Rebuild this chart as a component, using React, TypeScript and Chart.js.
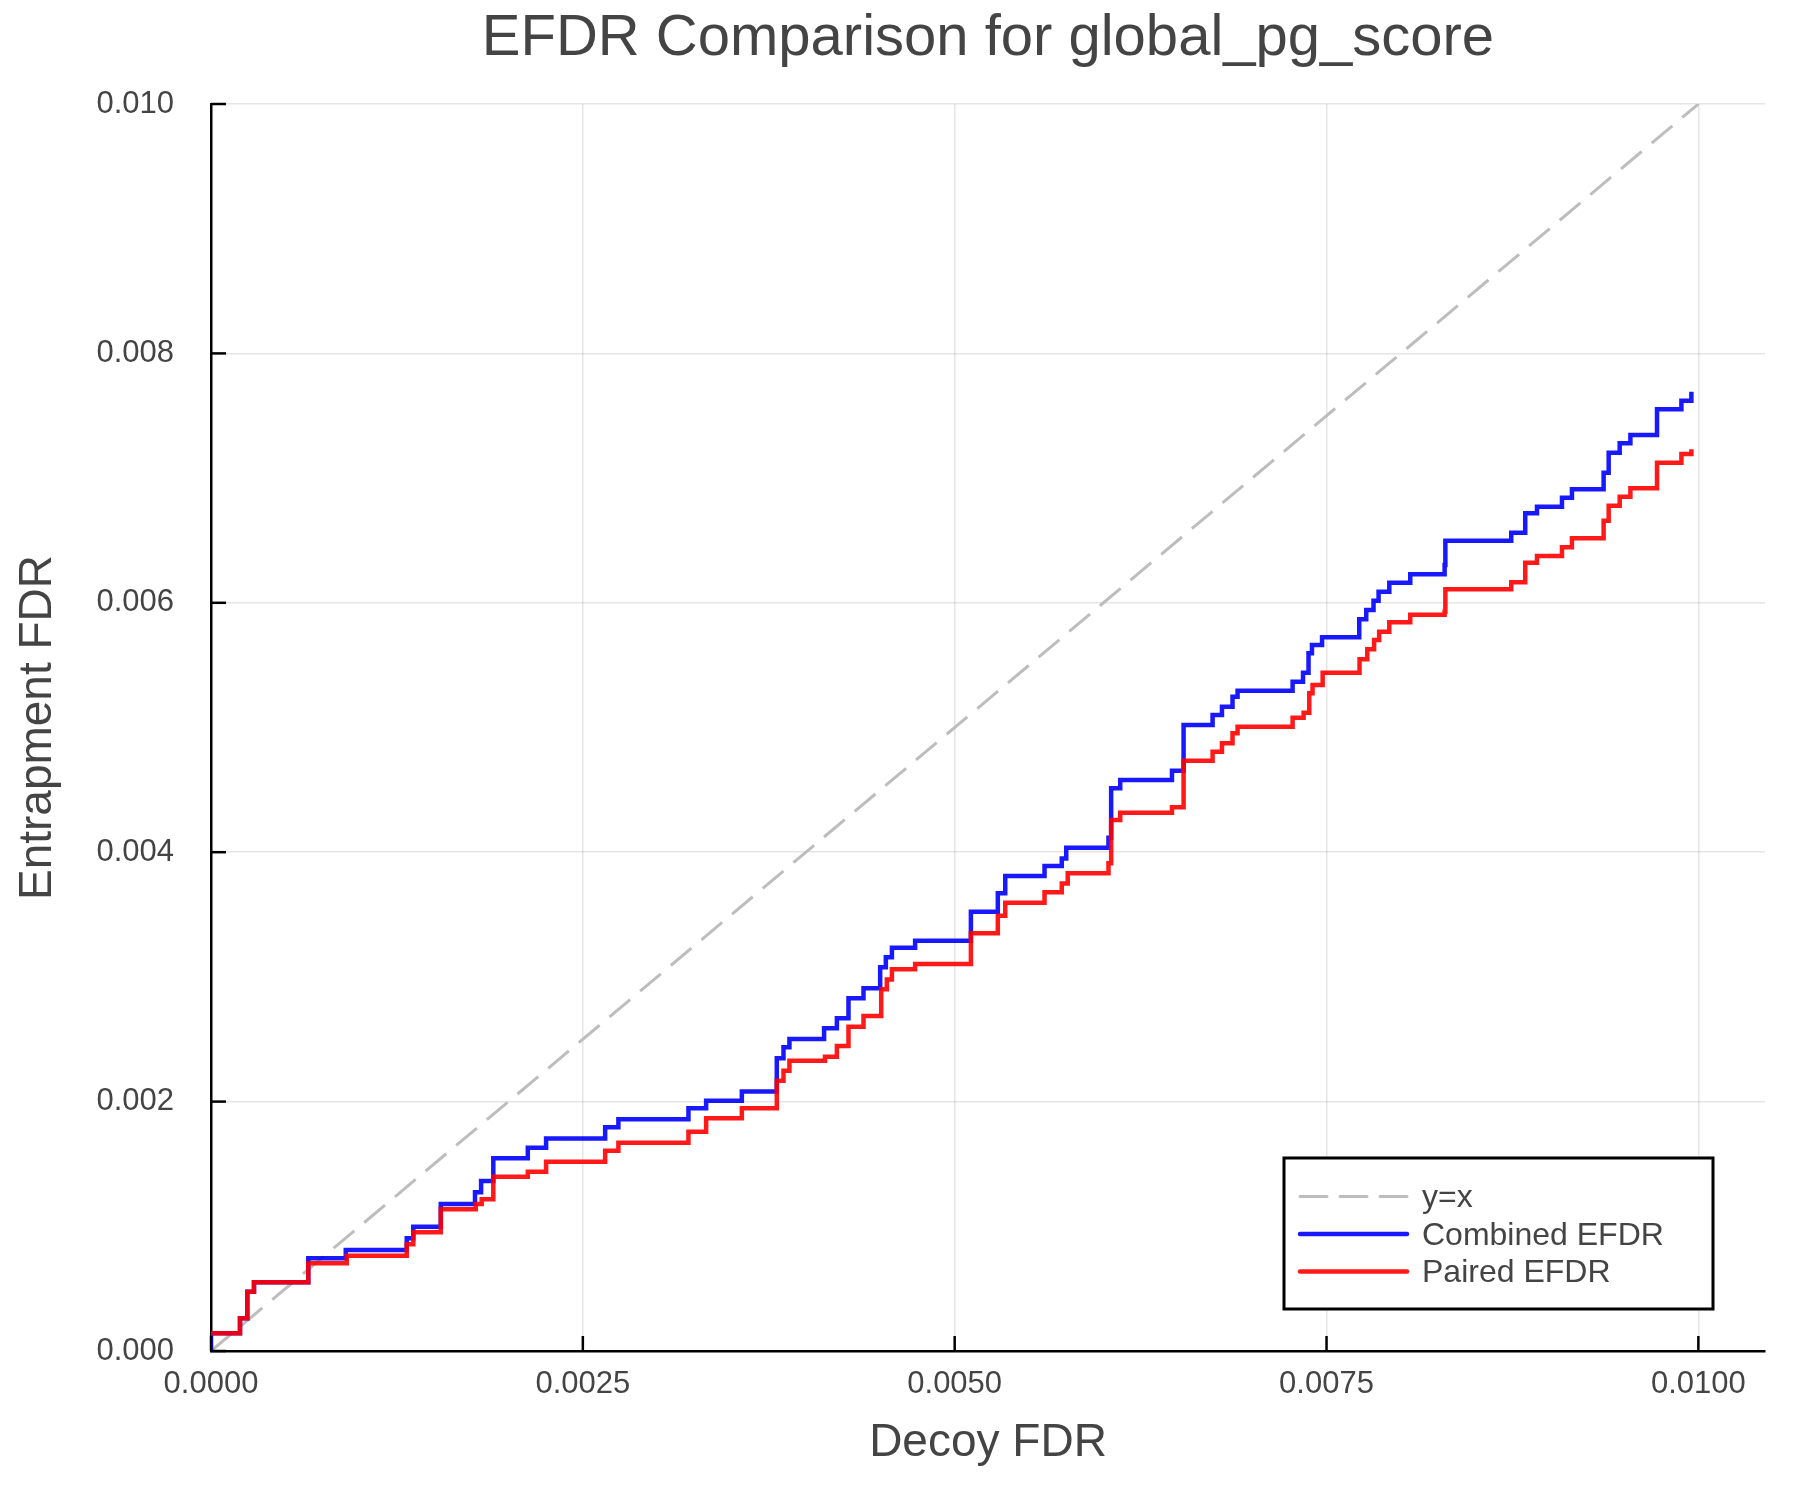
import React, { useEffect, useRef } from 'react';
import { Chart, registerables } from 'chart.js';

Chart.register(...registerables);

// step curves: at each x the curve jumps to the matching y
const COMBINED_X = [
  0, 0, 0.000195, 0.000244, 0.000289, 0.000654, 0.000906, 0.001316, 0.00136, 0.001545,
  0.001775, 0.001816, 0.001898, 0.00213, 0.002253, 0.00265, 0.002739, 0.00321, 0.003329, 0.003569,
  0.003804, 0.003849, 0.003889, 0.004122, 0.004208, 0.004286, 0.004387, 0.004499, 0.004537, 0.004578,
  0.004734, 0.005109, 0.00529, 0.00534, 0.005604, 0.00572, 0.00575, 0.006034, 0.006052, 0.006113,
  0.006461, 0.006539, 0.006734, 0.006797, 0.006868, 0.006902, 0.007272, 0.007342, 0.007379, 0.007402,
  0.00747, 0.00772, 0.007767, 0.007816, 0.00785, 0.007922, 0.008063, 0.008294, 0.008299, 0.008742,
  0.008836, 0.008915, 0.009083, 0.00915, 0.009363, 0.009397, 0.009471, 0.009543, 0.009722, 0.009886,
  0.009953,
];
const COMBINED_Y = [
  0, 0.000142, 0.000262, 0.000476, 0.000551, 0.000743, 0.00081, 0.000904, 0.000997, 0.001179,
  0.001273, 0.001363, 0.001545, 0.00163, 0.001705, 0.001794, 0.001858, 0.001946, 0.002007, 0.00208,
  0.002347, 0.002435, 0.002502, 0.002588, 0.002668, 0.002828, 0.002908, 0.003077, 0.003157, 0.003234,
  0.00329, 0.003523, 0.003671, 0.003809, 0.003889, 0.00395, 0.004036, 0.004116, 0.004513, 0.004579,
  0.004654, 0.00502, 0.0051, 0.005167, 0.005247, 0.005295, 0.005367, 0.005439, 0.005595, 0.005662,
  0.005724, 0.005868, 0.005942, 0.006017, 0.006089, 0.006161, 0.006229, 0.006303, 0.006498, 0.006562,
  0.006718, 0.006771, 0.006843, 0.00691, 0.007043, 0.007204, 0.007279, 0.007346, 0.007552, 0.007621,
  0.007693,
];

const PAIRED_X = [
  0, 0.000195, 0.000244, 0.000289, 0.000654, 0.000913, 0.001316, 0.00136, 0.001545, 0.00178,
  0.00182, 0.001898, 0.00213, 0.002253, 0.00265, 0.002739, 0.00321, 0.003329, 0.003569, 0.003804,
  0.003849, 0.003889, 0.004128, 0.004208, 0.004286, 0.004387, 0.004506, 0.004544, 0.004578, 0.004734,
  0.005109, 0.00529, 0.00534, 0.005604, 0.00572, 0.00576, 0.006034, 0.006052, 0.006113, 0.006461,
  0.006539, 0.006734, 0.006797, 0.006868, 0.006902, 0.007272, 0.007346, 0.007384, 0.007406, 0.007474,
  0.007722, 0.007774, 0.00782, 0.007854, 0.007922, 0.008063, 0.008294, 0.008299, 0.008742, 0.008836,
  0.008915, 0.009083, 0.00915, 0.009363, 0.009397, 0.009471, 0.009543, 0.009722, 0.009886, 0.009953,
];
const PAIRED_Y = [
  0.000142, 0.000262, 0.000476, 0.000551, 0.000703, 0.000764, 0.000856, 0.000952, 0.001136, 0.001179,
  0.001216, 0.001398, 0.001438, 0.001518, 0.001606, 0.00167, 0.001759, 0.001866, 0.001946, 0.002168,
  0.002248, 0.002328, 0.00236, 0.002446, 0.002601, 0.002687, 0.0029, 0.00298, 0.003061, 0.003104,
  0.00335, 0.003491, 0.003595, 0.003678, 0.00375, 0.003831, 0.003911, 0.004258, 0.004317, 0.00436,
  0.004734, 0.004806, 0.004873, 0.004953, 0.005006, 0.005079, 0.005119, 0.005274, 0.005341, 0.005439,
  0.005547, 0.005627, 0.005702, 0.005768, 0.005845, 0.005905, 0.005929, 0.006108, 0.006164, 0.006322,
  0.006375, 0.006445, 0.006517, 0.006658, 0.006779, 0.006851, 0.006918, 0.007124, 0.007193, 0.007231,
];

const DIAGONAL_X = [0, 0.01];
const DIAGONAL_Y = [0, 0.01];

const X_TICKS = [0, 0.0025, 0.005, 0.0075, 0.01];
const Y_TICKS = [0, 0.002, 0.004, 0.006, 0.008, 0.01];
const X_MAX = 0.010448;

const SERIES_LABELS = ['y=x', 'Combined EFDR', 'Paired EFDR'];
const TITLE = 'EFDR Comparison for global_pg_score';

const FONT = '"Liberation Sans", Arial, Helvetica, sans-serif';
const TEXT_COLOR = '#444444';

const toPoints = (xs: number[], ys: number[]) => xs.map((x, i) => ({ x, y: ys[i] }));

// inward ticks, boxed legend and a title centred over the plot
const decorPlugin = {
  id: 'decor',
  afterDraw(chart: any) {
    const { ctx, chartArea, scales } = chart;
    ctx.save();

    ctx.strokeStyle = '#000';
    ctx.lineWidth = 2.5;
    X_TICKS.forEach((v) => {
      const px = scales.x.getPixelForValue(v);
      ctx.beginPath();
      ctx.moveTo(px, chartArea.bottom);
      ctx.lineTo(px, chartArea.bottom - 15);
      ctx.stroke();
    });
    Y_TICKS.forEach((v) => {
      const py = scales.y.getPixelForValue(v);
      ctx.beginPath();
      ctx.moveTo(chartArea.left, py);
      ctx.lineTo(chartArea.left + 15, py);
      ctx.stroke();
    });

    // legend
    const boxRight = chartArea.right - 52;
    const boxBottom = chartArea.bottom - 42;
    const boxLeft = boxRight - 429;
    const boxTop = boxBottom - 151;
    ctx.fillStyle = '#fff';
    ctx.fillRect(boxLeft, boxTop, boxRight - boxLeft, boxBottom - boxTop);
    ctx.strokeStyle = '#000';
    ctx.lineWidth = 3;
    ctx.strokeRect(boxLeft, boxTop, boxRight - boxLeft, boxBottom - boxTop);

    ctx.font = `32px ${FONT}`;
    ctx.textAlign = 'left';
    ctx.textBaseline = 'middle';
    chart.data.datasets.forEach((ds: any, i: number) => {
      const y = boxTop + 38.5 + i * 37.5;
      ctx.beginPath();
      ctx.strokeStyle = ds.borderColor;
      ctx.lineWidth = ds.borderWidth;
      ctx.lineCap = 'round';
      ctx.setLineDash(ds.borderDash || []);
      ctx.moveTo(boxLeft + 16, y);
      ctx.lineTo(boxLeft + 123, y);
      ctx.stroke();
      ctx.setLineDash([]);
      ctx.fillStyle = TEXT_COLOR;
      ctx.fillText(ds.label, boxLeft + 138, y + 2);
    });

    ctx.fillStyle = TEXT_COLOR;
    ctx.font = `58px ${FONT}`;
    ctx.textAlign = 'center';
    ctx.textBaseline = 'alphabetic';
    ctx.fillText(TITLE, (chartArea.left + chartArea.right) / 2, 55);

    ctx.restore();
  },
};

const EfdrChart: React.FC = () => {
  const chartRef = useRef<HTMLCanvasElement | null>(null);
  const chartInstanceRef = useRef<any>(null);

  useEffect(() => {
    if (!chartRef.current) return;
    const ctx = chartRef.current.getContext('2d');
    if (!ctx) return;

    if (chartInstanceRef.current) {
      chartInstanceRef.current.destroy();
    }

    chartInstanceRef.current = new Chart(ctx, {
      type: 'line',
      data: {
        datasets: [
          {
            label: SERIES_LABELS[0],
            data: toPoints(DIAGONAL_X, DIAGONAL_Y),
            borderColor: '#bdbdbd',
            borderWidth: 3,
            borderDash: [27, 13],
            pointRadius: 0,
            order: 2,
          },
          {
            label: SERIES_LABELS[1],
            data: toPoints(COMBINED_X, COMBINED_Y),
            borderColor: 'rgba(0, 0, 255, 0.9)',
            borderWidth: 4.5,
            stepped: true,
            pointRadius: 0,
            order: 1,
          },
          {
            label: SERIES_LABELS[2],
            data: toPoints(PAIRED_X, PAIRED_Y),
            borderColor: 'rgba(255, 0, 0, 0.9)',
            borderWidth: 4.5,
            stepped: true,
            pointRadius: 0,
            order: 0,
          },
        ],
      },
      options: {
        responsive: false,
        animation: false,
        devicePixelRatio: 1,
        layout: {
          padding: { top: 104, right: 35, left: 0, bottom: 0 },
        },
        plugins: {
          legend: { display: false },
          title: { display: false },
          tooltip: { enabled: false },
        },
        scales: {
          x: {
            type: 'linear',
            min: 0,
            max: X_MAX,
            afterBuildTicks: (scale: any) => {
              scale.ticks = X_TICKS.map((value) => ({ value }));
            },
            afterFit: (scale: any) => {
              scale.height = 149;
            },
            ticks: {
              autoSkip: false,
              maxRotation: 0,
              padding: 15,
              color: TEXT_COLOR,
              font: { family: FONT, size: 31 },
              callback: (value: string | number) => Number(value).toFixed(4),
            },
            grid: {
              color: 'rgba(0, 0, 0, 0.1)',
              lineWidth: 1.5,
              drawTicks: false,
            },
            border: { color: '#000', width: 2.5 },
            title: {
              display: true,
              text: 'Decoy FDR',
              color: TEXT_COLOR,
              font: { family: FONT, size: 46 },
              padding: { top: 0, bottom: 29 },
            },
          },
          y: {
            type: 'linear',
            min: 0,
            max: 0.01,
            afterBuildTicks: (scale: any) => {
              scale.ticks = Y_TICKS.map((value) => ({ value }));
            },
            afterFit: (scale: any) => {
              scale.width = 211;
            },
            ticks: {
              autoSkip: false,
              padding: 37,
              color: TEXT_COLOR,
              font: { family: FONT, size: 31 },
              callback: (value: string | number) => Number(value).toFixed(3),
            },
            grid: {
              color: 'rgba(0, 0, 0, 0.1)',
              lineWidth: 1.5,
              drawTicks: false,
            },
            border: { color: '#000', width: 2.5 },
            title: {
              display: true,
              text: 'Entrapment FDR',
              color: TEXT_COLOR,
              font: { family: FONT, size: 46 },
              padding: { top: 11, bottom: 0 },
            },
          },
        },
      },
      plugins: [decorPlugin],
    } as any);

    return () => {
      if (chartInstanceRef.current) {
        chartInstanceRef.current.destroy();
        chartInstanceRef.current = null;
      }
    };
  }, []);

  return (
    <div style={{ position: 'absolute', left: 0, top: 0, width: 1800, height: 1500, background: '#fff' }}>
      <canvas ref={chartRef} width={1800} height={1500}></canvas>
    </div>
  );
};

export default function App() {
  return <EfdrChart />;
}
